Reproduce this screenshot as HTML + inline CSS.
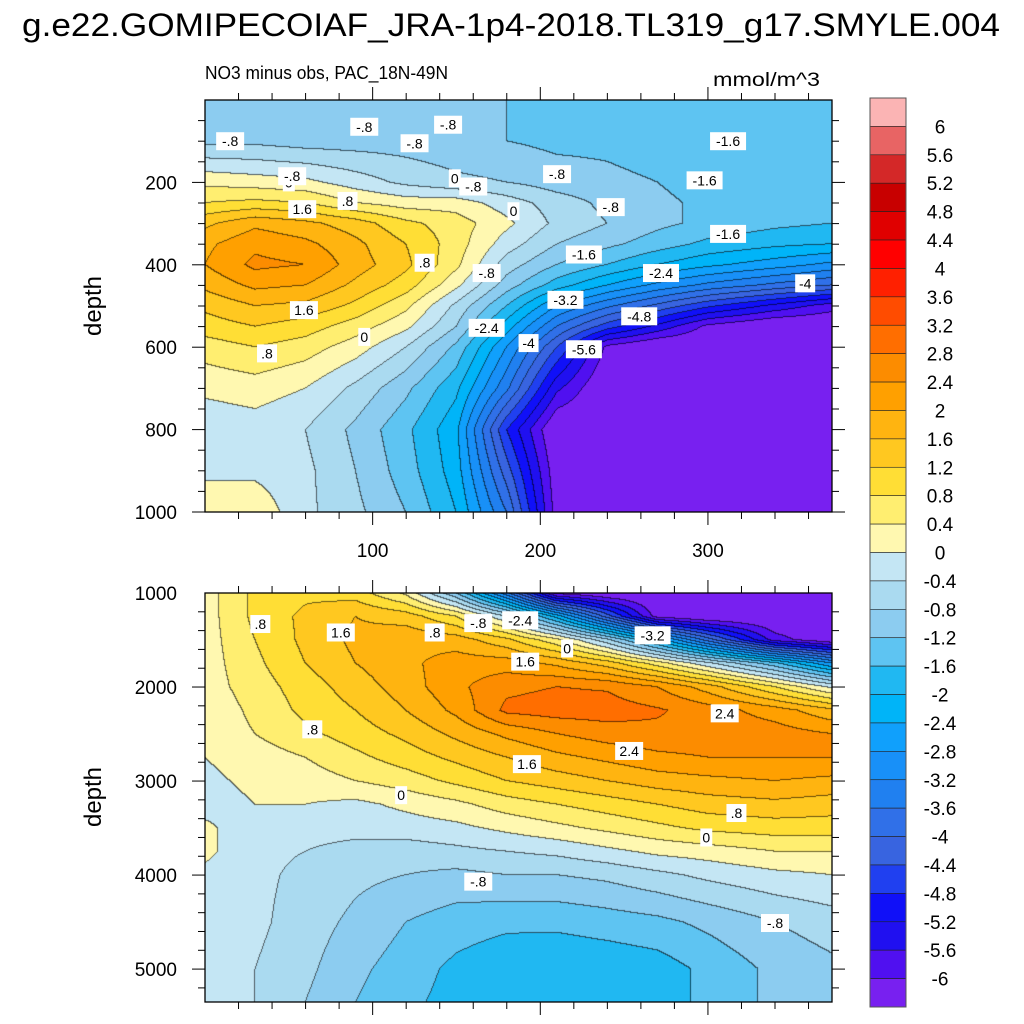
<!DOCTYPE html>
<html><head><meta charset="utf-8">
<style>
html,body{margin:0;padding:0;background:#fff;}
body{width:1024px;height:1024px;position:relative;overflow:hidden;font-family:"Liberation Sans",sans-serif;}
canvas{position:absolute;}
svg{position:absolute;left:0;top:0;}
</style></head>
<body>
<canvas id="cTop" style="left:205px;top:100px" width="627" height="412"></canvas>
<canvas id="cBot" style="left:205px;top:593px" width="627" height="409"></canvas>
<svg id="ov" width="1024" height="1024">
<text x="22" y="36" font-size="32" textLength="978" lengthAdjust="spacingAndGlyphs">g.e22.GOMIPECOIAF_JRA-1p4-2018.TL319_g17.SMYLE.004</text>
<text x="205" y="79" font-size="18" textLength="243" lengthAdjust="spacingAndGlyphs">NO3 minus obs, PAC_18N-49N</text>
<text x="713" y="86" font-size="19" textLength="107" lengthAdjust="spacingAndGlyphs">mmol/m^3</text>
<text transform="translate(101,306) rotate(-90)" font-size="24" text-anchor="middle">depth</text>
<text transform="translate(101,797) rotate(-90)" font-size="24" text-anchor="middle">depth</text>
<g id="axes"></g>
<g id="labels"></g>
<g id="cbar"></g>
</svg>
<script>
// ---- data ----
const xCoords = [0,30,60,90,120,150,180,210,240,270,300,340,374];
const topDepths = [0,100,200,250,300,350,400,450,500,550,600,700,800,900,1000];
const topValues = [
[-1.0,-1.0,-1.0,-1.1,-1.1,-1.2,-1.2,-1.3,-1.3,-1.3,-1.4,-1.4,-1.4],
[-0.9,-0.9,-1.0,-1.0,-1.0,-1.1,-1.2,-1.3,-1.3,-1.4,-1.5,-1.5,-1.5],
[0.3,0.2,0.1,-0.2,-0.5,-0.7,-0.8,-1.0,-1.1,-1.2,-1.4,-1.5,-1.5],
[0.8,0.9,0.8,0.4,0.2,0.2,-0.2,-0.6,-0.9,-1.1,-1.3,-1.4,-1.5],
[1.5,1.9,1.7,1.4,0.9,0.6,0.1,-0.5,-0.8,-1.1,-1.3,-1.5,-1.6],
[1.9,2.3,2.1,1.7,1.2,0.6,-0.2,-0.8,-1.1,-1.4,-1.7,-1.9,-2.0],
[2.0,2.5,2.4,1.8,1.3,0.5,-0.6,-1.2,-1.6,-2.0,-2.3,-2.6,-2.9],
[1.7,2.1,2.0,1.5,1.0,0.1,-1.0,-1.8,-2.4,-2.9,-3.3,-3.7,-4.0],
[1.3,1.6,1.5,1.1,0.5,-0.5,-1.6,-2.8,-3.5,-4.1,-4.7,-5.3,-5.8],
[1.0,1.2,1.0,0.6,0.1,-0.8,-2.2,-3.6,-4.6,-5.3,-6.1,-6.5,-6.5],
[0.6,0.8,0.6,0.2,-0.4,-1.3,-2.8,-4.4,-6.1,-6.5,-6.5,-6.5,-6.5],
[0.1,0.2,0.0,-0.5,-1.1,-1.9,-3.5,-5.5,-6.5,-6.5,-6.5,-6.5,-6.5],
[-0.3,-0.2,-0.4,-0.9,-1.5,-2.3,-4.8,-6.5,-6.5,-6.5,-6.5,-6.5,-6.5],
[-0.1,-0.1,-0.3,-0.8,-1.4,-2.2,-4.2,-6.3,-6.5,-6.5,-6.5,-6.5,-6.5],
[0.3,0.3,-0.3,-0.7,-1.2,-2.0,-3.6,-6.2,-6.5,-6.5,-6.5,-6.5,-6.5]
];
const botDepths = [1000,1250,1500,1750,2000,2250,2500,2750,3000,3250,3500,3750,4000,4500,5000,5350];
const botValues = [
[0.2,0.9,1.1,1.0,0.3,-1.2,-3.5,-6.2,-6.5,-6.5,-6.5,-6.5,-6.5],
[0.2,0.9,1.3,1.6,1.4,0.8,-0.4,-2.2,-4.2,-6.2,-6.5,-6.5,-6.5],
[0.2,0.8,1.3,1.7,1.9,1.8,1.3,0.5,-0.7,-2.2,-3.8,-5.8,-6.4],
[0.2,0.7,1.2,1.6,1.9,2.2,2.2,1.9,1.4,0.6,-0.3,-1.5,-2.8],
[0.2,0.6,1.0,1.4,1.8,2.3,2.7,2.8,2.75,2.4,1.8,0.8,-0.1],
[0.1,0.5,0.9,1.2,1.6,2.1,2.9,3.0,3.0,2.85,2.6,2.2,1.7],
[0.1,0.4,0.7,1.0,1.3,1.7,2.1,2.4,2.6,2.7,2.7,2.6,2.4],
[0.0,0.2,0.4,0.7,1.0,1.3,1.6,1.9,2.1,2.3,2.4,2.4,2.4],
[-0.1,0.1,0.2,0.4,0.6,0.9,1.2,1.4,1.6,1.8,1.9,2.0,1.9],
[-0.2,0.0,0.0,-0.1,0.1,0.3,0.6,0.8,1.0,1.2,1.4,1.5,1.4],
[0.1,-0.3,-0.3,-0.3,-0.2,-0.1,0.1,0.3,0.5,0.7,0.9,1.0,1.0],
[0.1,-0.3,-0.4,-0.5,-0.6,-0.5,-0.4,-0.3,-0.1,0.1,0.2,0.4,0.4],
[-0.1,-0.3,-0.5,-0.7,-0.8,-0.9,-0.8,-0.8,-0.7,-0.5,-0.3,-0.1,0.0],
[-0.1,-0.3,-0.6,-0.9,-1.2,-1.4,-1.5,-1.5,-1.4,-1.3,-1.1,-0.8,-0.6],
[-0.1,-0.4,-0.7,-1.1,-1.4,-1.7,-1.9,-1.95,-1.9,-1.8,-1.5,-1.1,-0.9],
[-0.1,-0.4,-0.8,-1.2,-1.5,-1.75,-1.95,-1.95,-1.95,-1.8,-1.5,-1.1,-0.9]
];
const cbarLabels = ["6","5.6","5.2","4.8","4.4","4","3.6","3.2","2.8","2.4","2","1.6","1.2","0.8","0.4","0","-0.4","-0.8","-1.2","-1.6","-2","-2.4","-2.8","-3.2","-3.6","-4","-4.4","-4.8","-5.2","-5.6","-6"];
const cbarColors = ["#fbb4b4","#e86464","#d42828","#c80000","#e00000","#ff0000","#ff2000","#ff4c00","#ff6e00","#fc8c00","#ffa000","#ffb410","#ffc820","#ffde35","#ffee70","#fff8b0","#c4e6f4","#aadaf0","#8cccf0","#5ec4f2","#20b8f2","#00b4f8","#10a0fc","#1890f8","#2080f0","#3070e8","#3864e0","#2040f0","#1010f8","#2010f0","#5010f0","#7820f0"];
const topXTicks = [100,200,300];
const topYTicks = [200,400,600,800,1000];
const botYTicks = [1000,2000,3000,4000,5000];
const topContourLabels = [["-.8",15,100],["0",50,200],["-.8",52,185],["1.6",58,265],["-.8",95,65],["-.8",125,105],[".8",85,245],["-.8",145,60],["0",149,190],["-.8",160,210],["0",184,270],["-.8",210,180],["-.8",242,260],["-1.6",312,100],["-1.6",298,195],["-1.6",312,325],["-1.6",226,375],[".8",131,395],["-.8",168,420],["-2.4",272,420],["-3.2",215,485],["-4.8",259,525],["-4",358,445],["-2.4",168,553],["-4",193,590],["-5.6",226,605],["1.6",59,510],["0",95,575],[".8",37,615]];
const botContourLabels = [[".8",33,1330],["1.6",81,1420],[".8",137,1420],["-.8",163,1320],["-2.4",188,1290],["-3.2",267,1450],["0",216,1590],["1.6",191,1730],["2.4",310,2280],["2.4",253,2680],["1.6",192,2820],[".8",64,2450],["0",117,3150],[".8",317,3340],["0",299,3600],["-.8",163,4070],["-.8",340,4510]];

// ---- scales ----
const X0=205,X1=832;
function sx(x){return X0+(x-0)/(374-0)*(X1-X0);}
function syTop(d){return 100+(d-0)/(1000-0)*412;}
function syBot(d){return 593+(d-1000)/(5350-1000)*409;}

function interp(arr,v){
  for(let i=0;i<arr.length-1;i++){ if(v<=arr[i+1]) return [i,(v-arr[i])/(arr[i+1]-arr[i])]; }
  return [arr.length-2,1];
}
function binIndex(v){
  if(v>=0){let k=15-Math.floor(v/0.4);return Math.max(0,k);}
  let k=16+Math.floor(-v/0.4);return Math.min(31,k);
}
function hexToRgb(h){return [parseInt(h.slice(1,3),16),parseInt(h.slice(3,5),16),parseInt(h.slice(5,7),16)];}
const rgb=cbarColors.map(hexToRgb);

function drawField(id,depths,vals,d0,d1){
  const cv=document.getElementById(id),ctx=cv.getContext('2d');
  const W=cv.width,H=cv.height;
  const img=ctx.createImageData(W,H);
  const idx=new Int16Array(W*H);
  const xs=[];for(let i=0;i<W;i++)xs.push(interp(xCoords,(i+0.5)/W*374));
  for(let j=0;j<H;j++){
    const d=d0+(j+0.5)/H*(d1-d0);const [r,t]=interp(depths,d);
    for(let i=0;i<W;i++){
      const [c,u]=xs[i];
      const v=(1-t)*((1-u)*vals[r][c]+u*vals[r][c+1])+t*((1-u)*vals[r+1][c]+u*vals[r+1][c+1]);
      idx[j*W+i]=binIndex(v);
    }
  }
  for(let j=0;j<H;j++)for(let i=0;i<W;i++){
    const k=idx[j*W+i];let col=rgb[k];
    let edge=(i<W-1&&idx[j*W+i+1]!==k)||(j<H-1&&idx[(j+1)*W+i]!==k);
    const p=(j*W+i)*4;
    if(edge){img.data[p]=col[0]*0.4;img.data[p+1]=col[1]*0.4;img.data[p+2]=col[2]*0.4;}
    else{img.data[p]=col[0];img.data[p+1]=col[1];img.data[p+2]=col[2];}
    img.data[p+3]=255;
  }
  ctx.putImageData(img,0,0);
}
drawField('cTop',topDepths,topValues,0,1000);
drawField('cBot',botDepths,botValues,1000,5350);

const NS="http://www.w3.org/2000/svg";
function mk(tag,attrs,parent){const e=document.createElementNS(NS,tag);for(const k in attrs)e.setAttribute(k,attrs[k]);parent.appendChild(e);return e;}
const axes=document.getElementById('axes');
function frame(y0,y1,name){
  const r=mk('rect',{x:X0,y:y0,width:X1-X0,height:y1-y0,fill:'none',stroke:'#000','stroke-width':1.3},axes);
  
  
}
frame(100,512,'top-plot-frame');frame(593,1002,'bottom-plot-frame');
for(let x=20;x<=374;x+=20){
  const major=x%100===0,L=major?13:7,px=sx(x);
  mk('line',{x1:px,x2:px,y1:512,y2:512+L,stroke:'#000'},axes);
  mk('line',{x1:px,x2:px,y1:100,y2:100-L,stroke:'#000'},axes);
  mk('line',{x1:px,x2:px,y1:593,y2:593-L,stroke:'#000'},axes);
  mk('line',{x1:px,x2:px,y1:1002,y2:1002+L,stroke:'#000'},axes);
}
topXTicks.forEach(v=>{
  const t=mk('text',{x:sx(v),y:557,'font-size':19,'text-anchor':'middle'},axes);t.textContent=v;
  
  
});
for(let d=50;d<=1000;d+=50){
  const major=d%200===0,L=major?13:7,py=syTop(d);
  mk('line',{x1:X0,x2:X0-L,y1:py,y2:py,stroke:'#000'},axes);
  mk('line',{x1:X1,x2:X1+L,y1:py,y2:py,stroke:'#000'},axes);
}
topYTicks.forEach(v=>{
  const t=mk('text',{x:177,y:syTop(v)+7,'font-size':19,'text-anchor':'end'},axes);t.textContent=v;
  
  
});
for(let d=1200;d<=5350;d+=200){
  const major=d%1000===0,L=major?13:7,py=syBot(d);
  mk('line',{x1:X0,x2:X0-L,y1:py,y2:py,stroke:'#000'},axes);
  mk('line',{x1:X1,x2:X1+L,y1:py,y2:py,stroke:'#000'},axes);
}
botYTicks.forEach(v=>{
  const t=mk('text',{x:177,y:syBot(v)+7,'font-size':19,'text-anchor':'end'},axes);t.textContent=v;
  
  
});
const lg=document.getElementById('labels');
function clabel(arr,sy){
  arr.forEach(([s,x,d])=>{
    const px=sx(x),py=sy(d);const w=s.length*8+4;
    const g=mk('g',{},lg);
    
    
    mk('rect',{x:px-w/2,y:py-9,width:w,height:18,fill:'#fff'},g);
    const t=mk('text',{x:px,y:py+5,'font-size':14,'text-anchor':'middle'},g);t.textContent=s;
  });
}
clabel(topContourLabels,syTop);clabel(botContourLabels,syBot);
const cb=document.getElementById('cbar');
const CB0=98,CB1=1007,bh=(CB1-CB0)/cbarColors.length;
cbarColors.forEach((c,i)=>{
  const r=mk('rect',{x:870,y:CB0+i*bh,width:36,height:bh,fill:c,stroke:'#222','stroke-width':0.6},cb);
  
  
});
mk('rect',{x:870,y:CB0,width:36,height:CB1-CB0,fill:'none',stroke:'#555','stroke-width':1},cb);
cbarLabels.forEach((s,i)=>{
  const t=mk('text',{x:940,y:CB0+(i+1)*bh+7,'font-size':19,'text-anchor':'middle'},cb);t.textContent=s;
  
  
});
</script>
</body></html>
